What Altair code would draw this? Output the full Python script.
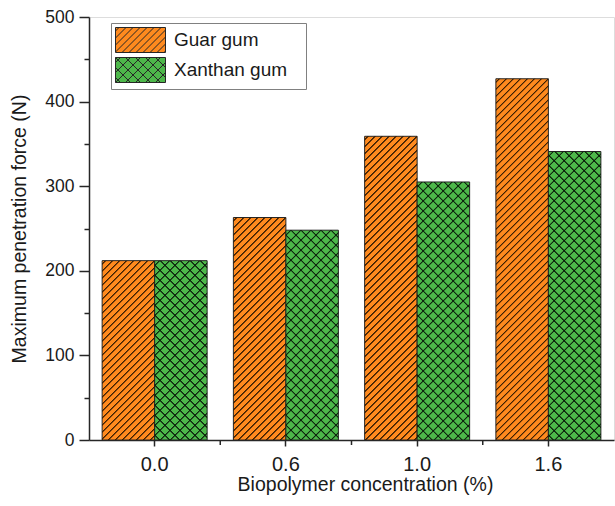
import math
import altair as alt
import pandas as pd

# ---- data ----
concentrations = ["0.0", "0.6", "1.0", "1.6"]
series = ["Guar gum", "Xanthan gum"]
guar_gum = [212, 263, 359, 427]
xanthan_gum = [212, 248, 305, 341]
y_ticks = [0, 50, 100, 150, 200, 250, 300, 350, 400, 450, 500]

rows = []
for c, g, x in zip(concentrations, guar_gum, xanthan_gum):
    rows.append({"conc": c, "type": series[0], "force": g})
    rows.append({"conc": c, "type": series[1], "force": x})
df = pd.DataFrame(rows)
between = pd.DataFrame({"conc": concentrations[:-1]})

# ---- layout / style ----
W, H = 525, 423
YMAX = 500
PAD_IN, PAD_OUT = 0.2, 0.1
step = W / (len(concentrations) - PAD_IN + 2 * PAD_OUT)
bar_w = step * (1 - PAD_IN) / len(series)
px_per_unit = H / YMAX

ORANGE = "#FF8A1E"
GREEN = "#4DB84A"
EDGE = "#262626"
FONT = "Liberation Sans"
TXT = "#1a1a1a"


def hatch(h, w, period, rgb, direction):
    """linear gradient producing parallel 45-degree stripes of fixed pixel spacing"""
    dark = "rgba(%d,%d,%d,0.92)" % rgb
    clear = "rgba(%d,%d,%d,0)" % rgb
    total = w + h
    kk = w / (w * w + h * h)
    core = 0.3 * math.sqrt(2)
    edge = 0.85 * math.sqrt(2)
    stops = [alt.GradientStop(offset=0, color=clear)]
    last = 0.0
    s = period / 2
    while s - edge < total:
        for off, col in ((s - edge, clear), (s - core, dark), (s + core, dark), (s + edge, clear)):
            o = min(max(off * kk, last), 1.0)
            stops.append(alt.GradientStop(offset=round(o, 6), color=col))
            last = o
        s += period
    if direction == "/":
        return alt.LinearGradient(gradient="linear", stops=stops, x1=0, y1=0, x2=1, y2=h / w)
    return alt.LinearGradient(gradient="linear", stops=stops, x1=0, y1=1, x2=1, y2=1 - h / w)


def legend_path(kind):
    parts = ["M-1,-1H3V1H-1Z"]
    if kind == "diag":
        dirs, per = ["/"], 0.56
    else:
        dirs, per = ["/", "\\"], 0.8
    for d in dirs:
        c = -2.0 + per / 2
        while c < 4.0:
            if d == "/":
                ylo, yhi = max(-1.0, c - 3.0), min(1.0, c + 1.0)
                if ylo < yhi:
                    parts.append("M%.3f,%.3fL%.3f,%.3f" % (c - ylo, ylo, c - yhi, yhi))
            else:
                ylo, yhi = max(-1.0, -1.0 - c), min(1.0, 3.0 - c)
                if ylo < yhi:
                    parts.append("M%.3f,%.3fL%.3f,%.3f" % (c + ylo, ylo, c + yhi, yhi))
            c += per
    return "".join(parts)


X_SCALE = alt.Scale(domain=concentrations, paddingInner=PAD_IN, paddingOuter=PAD_OUT)
X_AXIS = alt.Axis(
    title="Biopolymer concentration (%)",
    labelAngle=0,
    labelFontSize=20,
    labelBaseline="alphabetic",
    labelPadding=24,
    tickSize=6,
    titleX=276,
    titleY=50,
    titleBaseline="alphabetic",
    titleFontSize=19.5,
)
X = alt.X("conc:N", scale=X_SCALE, axis=X_AXIS)
XO = alt.XOffset("type:N", scale=alt.Scale(domain=series))
Y = alt.Y(
    "force:Q",
    scale=alt.Scale(domain=[0, YMAX], nice=False),
    axis=alt.Axis(
        values=y_ticks,
        title="Maximum penetration force (N)",
        titleX=-64,
        titleY=H / 2,
        titleAngle=270,
        titleBaseline="alphabetic",
        titleFontSize=19.5,
        labelFontSize=17.5,
        labelPadding=5,
        labelExpr="datum.value % 100 === 0 ? datum.label : ''",
        tickSize={"condition": {"test": "datum.value % 100 === 0", "value": 10}, "value": 5},
    ),
)

leg = alt.Legend(
    title=None,
    orient="none",
    legendX=22,
    legendY=6,
    symbolSize=625,
    symbolStrokeColor=EDGE,
    symbolStrokeWidth=1,
    labelOffset=33,
    labelFontSize=19,
    labelFont=FONT,
    labelColor=TXT,
    rowPadding=0,
    padding=4,
    strokeColor="#808080",
    fillColor="white",
    labelExpr="datum.label + '\u2800'",
)
COLOR = alt.Color("type:N", scale=alt.Scale(domain=series, range=[ORANGE, GREEN]), legend=leg)

base = alt.Chart(df).mark_bar(stroke=EDGE, strokeWidth=1).encode(x=X, xOffset=XO, y=Y, color=COLOR)

layers = [base]
for c, g, xv in zip(concentrations, guar_gum, xanthan_gum):
    for t, v in ((series[0], g), (series[1], xv)):
        h = v * px_per_unit
        if t == series[0]:
            grads = [hatch(h, bar_w, 7.0, (45, 22, 0), "/")]
        else:
            grads = [hatch(h, bar_w, 10.0, (10, 28, 10), "/"), hatch(h, bar_w, 10.0, (10, 28, 10), "\\")]
        for gr in grads:
            layers.append(
                alt.Chart(df)
                .transform_filter((alt.datum.conc == c) & (alt.datum.type == t))
                .mark_bar(fill=gr)
                .encode(x=X, xOffset=XO, y=Y)
            )

legend_layer = alt.Chart(df).mark_point(filled=True, size=0, stroke=EDGE, strokeWidth=1, opacity=1).encode(
    x=X,
    xOffset=XO,
    y=Y,
    color=COLOR,
    shape=alt.Shape("type:N", scale=alt.Scale(domain=series, range=[legend_path("diag"), legend_path("cross")]), legend=leg),
)
layers.append(legend_layer)

# minor x ticks between categories
minor_x = alt.Chart(between).mark_rule(color=EDGE, strokeWidth=1.5, xOffset=step * PAD_IN / 2).encode(
    x=alt.X("conc:N", bandPosition=1, scale=X_SCALE, axis=X_AXIS),
    y=alt.value(H),
    y2=alt.value(H + 5),
)
layers.append(minor_x)

chart = (
    alt.layer(*layers)
    .properties(
        width=W,
        height=H,
        autosize=alt.AutoSizeParams(type="none"),
        padding={"left": 89, "top": 17, "right": 1, "bottom": 66},
        background="white",
    )
    .configure_view(stroke=None)
    .configure(font=FONT)
    .configure_axis(
        grid=False,
        domainColor=EDGE,
        domainWidth=1.5,
        tickColor=EDGE,
        tickWidth=1.5,
        labelColor=TXT,
        titleColor=TXT,
        labelFont=FONT,
        titleFont=FONT,
        titleFontWeight="normal",
    )
)

chart.save("out.html", embed_options={"renderer": "svg", "actions": False})
